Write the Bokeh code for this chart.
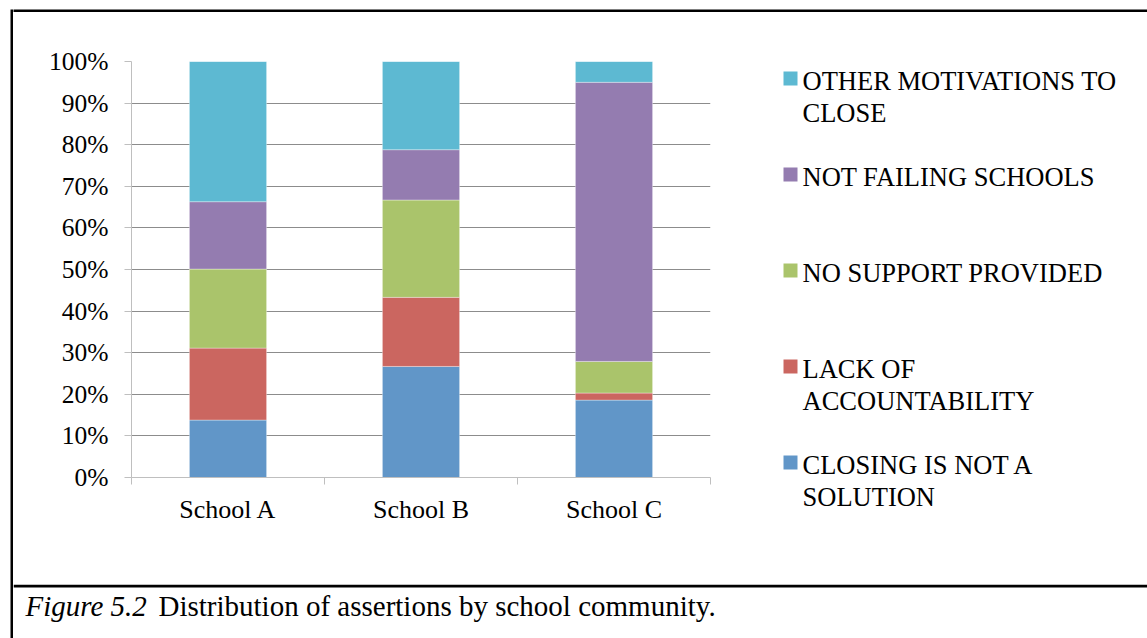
from bokeh.plotting import figure
from bokeh.layouts import row, column
from bokeh.models import (ColumnDataSource, FixedTicker, NumeralTickFormatter,
                          Range1d)
from bokeh.core.properties import value
from bokeh.embed import file_html
from bokeh.resources import INLINE

# Share of assertions per school community (each column sums to 1)
schools = ["School A", "School B", "School C"]
closing_not_solution = [0.138, 0.267, 0.186]
lack_of_accountability = [0.173, 0.166, 0.017]
no_support_provided = [0.190, 0.234, 0.076]
not_failing_schools = [0.162, 0.121, 0.671]
other_motivations = [0.337, 0.212, 0.050]

series_keys = ["closing", "lack", "support", "notfailing", "other"]
series_lines = [
    ["CLOSING IS NOT A", "SOLUTION"],
    ["LACK OF", "ACCOUNTABILITY"],
    ["NO SUPPORT PROVIDED"],
    ["NOT FAILING SCHOOLS"],
    ["OTHER MOTIVATIONS TO", "CLOSE"],
]
colors = ["#6196C8", "#CB6660", "#AAC46B", "#947CB0", "#5DB9D2"]
y_ticks = [0.0, 0.1, 0.2, 0.3, 0.4, 0.5, 0.6, 0.7, 0.8, 0.9, 1.0]
caption_italic = "Figure 5.2"
caption_text = "Distribution of assertions by school community."

FONT = "Liberation Serif"
COMMON = dict(output_backend="svg", toolbar_location=None)


def blank_panel(width, height, x_range, y_range, **borders):
    """A figure without axes or grid, used for decoration and text."""
    f = figure(width=width, height=height, x_range=x_range, y_range=y_range,
               x_axis_location=None, y_axis_location=None, **borders, **COMMON)
    f.grid.visible = False
    f.outline_line_color = None
    f.background_fill_color = "white"
    f.border_fill_color = "white"
    return f


def rule_strip(width, height, left=0, top=0):
    """A black bar made from a figure frame (used for the box rules)."""
    f = figure(width=width, height=height, x_axis_location=None,
               y_axis_location=None, min_border_left=left, min_border_top=top,
               min_border_right=0, min_border_bottom=0, **COMMON)
    f.grid.visible = False
    f.background_fill_color = "black"
    f.border_fill_color = "white"
    f.outline_line_color = None
    return f


# ---- stacked bar chart ----
positions = list(range(1, len(schools) + 1))
source = ColumnDataSource(dict(
    x=positions,
    closing=closing_not_solution,
    lack=lack_of_accountability,
    support=no_support_provided,
    notfailing=not_failing_schools,
    other=other_motivations,
))

chart = figure(width=747, height=572,
               x_range=Range1d(0.5, len(schools) + 0.5), y_range=Range1d(0, 1),
               min_border_left=118, min_border_right=50,
               min_border_top=49, min_border_bottom=107, **COMMON)
chart.outline_line_color = None
chart.background_fill_color = "white"
chart.border_fill_color = "white"

chart.vbar_stack(series_keys, x="x", width=0.4, color=colors,
                 line_color="white", line_alpha=0.35, line_width=1, source=source)

chart.yaxis.ticker = FixedTicker(ticks=y_ticks)
chart.yaxis.formatter = NumeralTickFormatter(format="0%")
chart.yaxis.axis_line_color = "#bfbfbf"
chart.yaxis.major_tick_line_color = "#bfbfbf"
chart.yaxis.major_tick_out = 7
chart.yaxis.major_tick_in = 0
chart.yaxis.minor_tick_line_color = None
chart.yaxis.major_label_standoff = 16
chart.yaxis.major_label_text_font = FONT
chart.yaxis.major_label_text_font_size = "25.5px"
chart.yaxis.major_label_text_color = "black"

chart.ygrid.ticker = FixedTicker(ticks=y_ticks)
chart.ygrid.grid_line_color = "#8c8c8c"
chart.xgrid.grid_line_color = None

# school names at bar centres, tick marks between categories
boundaries = [i + 0.5 for i in range(len(schools) + 1)]
chart.xaxis.ticker = FixedTicker(ticks=positions, minor_ticks=boundaries)
chart.xaxis.major_label_overrides = {pos: name for pos, name in zip(positions, schools)}
chart.xaxis.axis_line_color = "#bfbfbf"
chart.xaxis.major_tick_line_color = None
chart.xaxis.major_tick_out = 7
chart.xaxis.minor_tick_line_color = "#bfbfbf"
chart.xaxis.minor_tick_out = 7
chart.xaxis.minor_tick_in = 0
chart.xaxis.major_label_standoff = 10
chart.xaxis.major_label_text_font = FONT
chart.xaxis.major_label_text_font_size = "26px"
chart.xaxis.major_label_text_color = "black"

# ---- legend panel (page pixel coordinates, y downward) ----
legend = blank_panel(387, 572, Range1d(760, 1147), Range1d(584, 12), min_border=0)

sw_left, sw_top, sw_size, pitch, line_gap = 783, 71, 14, 96, 32
sq = dict(left=[], right=[], top=[], bottom=[], color=[])
tx = dict(x=[], y=[], text=[])
for slot, idx in enumerate(reversed(range(len(series_keys)))):
    top = sw_top + pitch * slot
    sq["left"].append(sw_left)
    sq["right"].append(sw_left + sw_size)
    sq["top"].append(top)
    sq["bottom"].append(top + sw_size)
    sq["color"].append(colors[idx])
    for k, line in enumerate(series_lines[idx]):
        tx["x"].append(sw_left + sw_size + 5)
        tx["y"].append(top + 9 + line_gap * k)
        tx["text"].append(line)

legend.quad(left="left", right="right", top="top", bottom="bottom",
            color="color", line_color=None, source=ColumnDataSource(sq))
legend.text(x="x", y="y", text="text", source=ColumnDataSource(tx),
            text_font=value(FONT), text_font_size="26.5px",
            text_baseline="middle", text_align="left", text_color="black")

# ---- caption panel with the rule above it ----
caption = blank_panel(1134, 54, Range1d(13, 1147), Range1d(638, 584), min_border=0)
caption.quad(left=[13], right=[1147], top=[584], bottom=[587],
             color="black", line_color=None)
caption.text(x=[25], y=[605], text=[caption_italic], text_font=value(FONT),
             text_font_style="italic", text_font_size="29px",
             text_baseline="middle", text_color="black")
caption.text(x=[158], y=[605], text=[caption_text], text_font=value(FONT),
             text_font_size="29px", text_baseline="middle", text_color="black")

# ---- box rules and assembly ----
left_rule = rule_strip(13, 638, left=10, top=9)
top_rule = rule_strip(1134, 12, top=9)

page = row(left_rule,
           column(top_rule,
                  row(chart, column(legend, spacing=0), spacing=0),
                  caption, spacing=0),
           spacing=0)

open("out.html", "w").write(file_html(page, INLINE))
